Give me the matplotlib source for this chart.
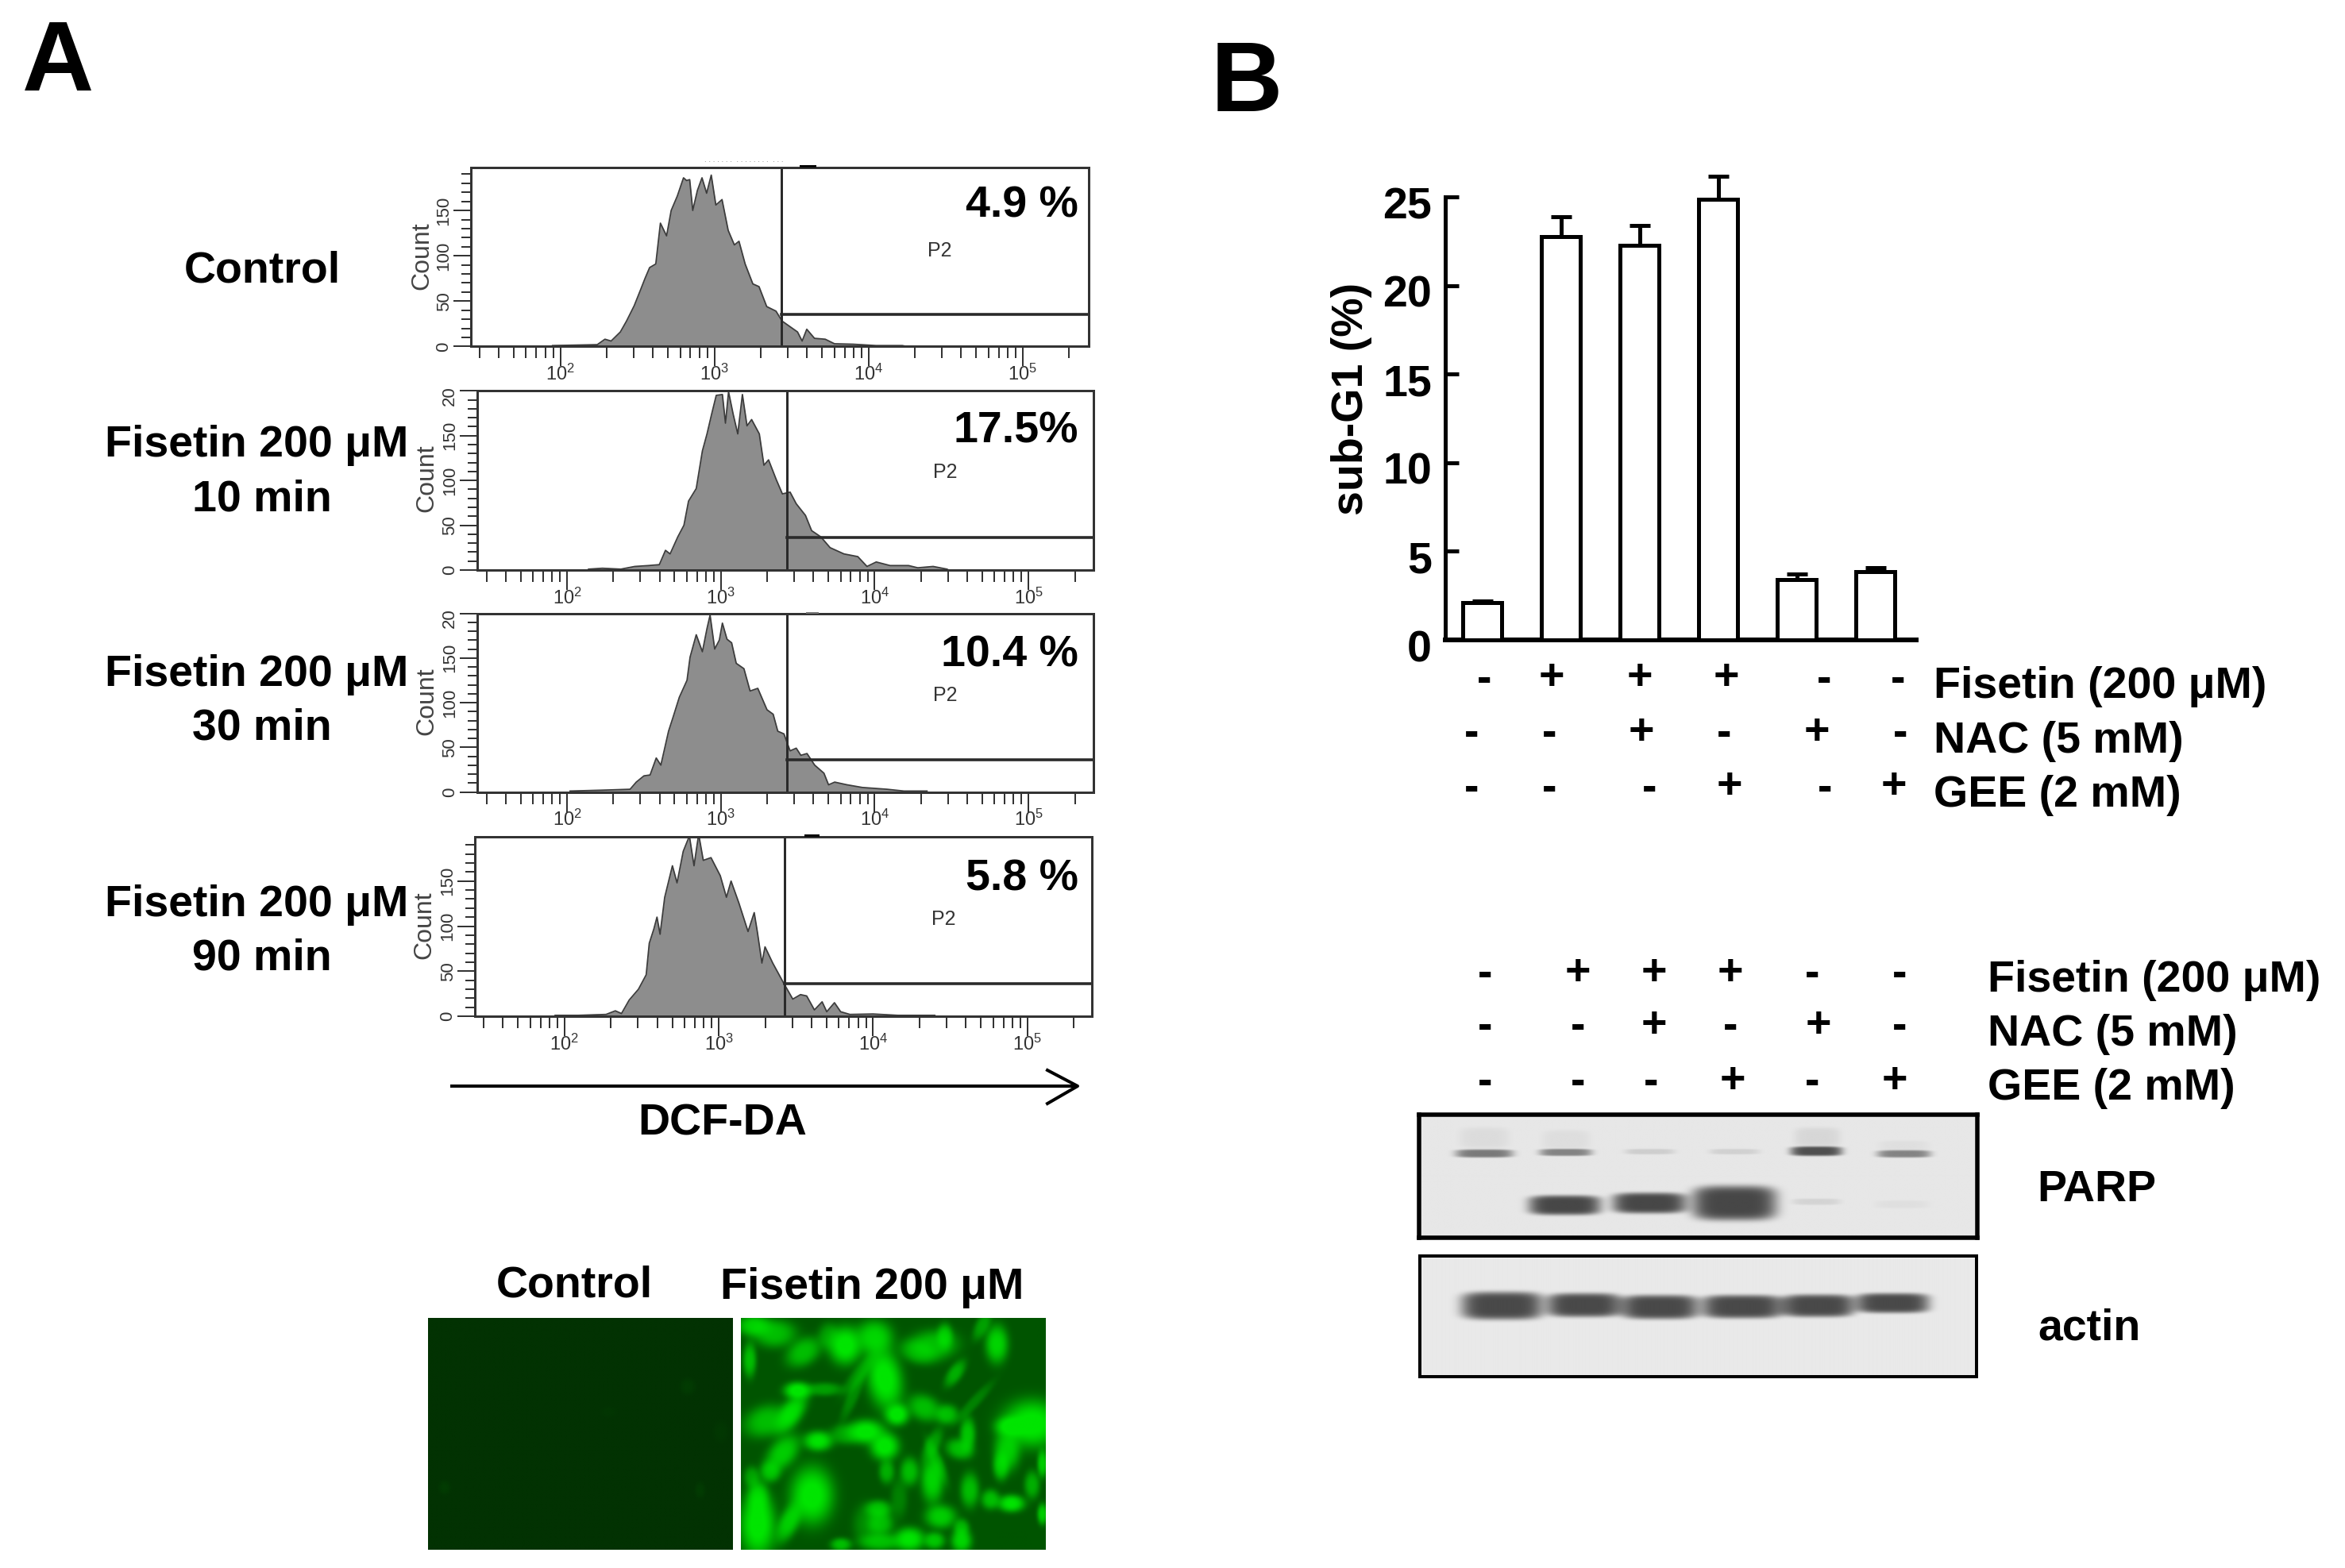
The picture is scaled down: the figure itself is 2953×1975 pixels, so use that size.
import numpy as np
import matplotlib
matplotlib.use("Agg")
import matplotlib.pyplot as plt
from matplotlib.ticker import FixedLocator, NullFormatter, LogFormatterSciNotation
from matplotlib.transforms import Bbox, TransformedBbox, ScaledTranslation

plt.rcParams['font.family'] = ['Liberation Sans', 'DejaVu Sans']
plt.rcParams['mathtext.default'] = 'regular'

W, H = 2953, 1975
PX = 0.72  # points per pixel at dpi 100

# ---------- data ----------
p1_log = [1.95,2.24,2.29,2.33,2.39,2.43,2.48,2.52,2.55,2.58,2.62,2.65,2.69,2.72,2.76,2.80,2.82,2.84,2.86,2.89,2.92,2.95,2.98,3.01,3.05,3.09,3.13,3.16,3.20,3.25,3.29,3.34,3.40,3.44,3.49,3.54,3.57,3.60,3.65,3.72,3.78,3.90,4.05,4.22,4.25]
p1_cnt = [1,2,8,6,16,28,45,62,75,87,91,136,122,150,166,186,183,184,150,172,186,169,189,156,162,128,112,116,91,69,66,44,39,28,22,16,6,19,9,8,3,2.5,1,1,0]
p2_log = [2.14,2.23,2.35,2.44,2.53,2.60,2.64,2.67,2.72,2.76,2.79,2.84,2.88,2.91,2.94,2.97,3.01,3.03,3.05,3.08,3.11,3.14,3.17,3.20,3.25,3.28,3.31,3.36,3.40,3.45,3.49,3.55,3.59,3.65,3.71,3.80,3.89,3.95,4.01,4.10,4.22,4.28,4.38,4.47,4.48]
p2_cnt = [1,2,1,4,5,6,22,18,37,50,77,91,133,152,174,195,196,164,199,174,152,196,161,168,152,117,123,101,85,87,74,61,44,37,25,18,15,4,9,5,5,2.5,4,1,0]
p3_log = [2.02,2.23,2.41,2.45,2.50,2.54,2.58,2.61,2.66,2.69,2.73,2.78,2.80,2.84,2.88,2.91,2.93,2.96,2.99,3.01,3.04,3.07,3.10,3.15,3.19,3.24,3.30,3.34,3.37,3.41,3.45,3.49,3.52,3.56,3.61,3.67,3.70,3.74,3.82,3.92,4.08,4.19,4.34]
p3_cnt = [1,2,3,11,18,19,38,30,68,84,106,125,151,176,157,183,198,160,170,189,171,167,144,138,113,116,92,87,68,65,46,49,41,43,30,21,8,11,8,5,3,1,1]
p4_log = [1.94,2.09,2.27,2.33,2.37,2.42,2.48,2.53,2.55,2.58,2.60,2.62,2.65,2.70,2.73,2.77,2.81,2.84,2.87,2.90,2.95,3.01,3.05,3.08,3.13,3.19,3.23,3.25,3.28,3.30,3.35,3.42,3.48,3.53,3.57,3.62,3.67,3.70,3.75,3.79,3.85,4.00,4.16,4.40]
p4_cnt = [1,1,2,6,3,18,30,46,81,97,110,91,132,167,148,183,200,167,202,173,176,156,132,150,126,94,115,94,59,77,59,37,19,24,22.5,7,16,5,15,5,2,2.5,1,1]
gate_log = [3.435, 3.43, 3.43, 3.426]
gate_cnt = [35, 36, 36, 36]
percent_labels = ['4.9 %', '17.5%', '10.4 %', '5.8 %']
treatment_lines = [('Fisetin 200 \u03bcM', '10 min'), ('Fisetin 200 \u03bcM', '30 min'), ('Fisetin 200 \u03bcM', '90 min')]

subg1_vals = [2.1, 22.8, 22.3, 24.9, 3.4, 3.85]
subg1_errs = [0.1, 1.1, 1.1, 1.3, 0.3, 0.25]
bar_ticks = [0, 5, 10, 15, 20, 25]
fisetin = ['-', '+', '+', '+', '-', '-']
nac = ['-', '-', '+', '-', '+', '-']
gee = ['-', '-', '-', '+', '-', '+']
row_names = ['Fisetin (200 \u03bcM)', 'NAC (5 mM)', 'GEE (2 mM)']

# blot bands: x1, x2, y1, y2, strength (coordinates of the blot picture)
parp_bands = [
    (150,300,203,234,.68),(368,505,201,228,.62),(590,720,201,222,.16),(810,940,201,222,.14),
    (1020,1155,192,228,.95),(1245,1385,206,234,.62),
    (340,528,376,450,1.0),(558,750,366,444,1.0),(765,985,340,470,1.0),
    (1025,1150,388,412,.12),(1240,1380,395,425,.05),
    (160,290,120,200,.07),(375,500,130,205,.06),(1030,1150,120,195,.1),(1250,1380,170,210,.05)]
actin_bands = [
    (165,377,740,845,1.0),(388,580,745,835,1.0),(580,780,752,843,1.0),
    (790,1000,752,840,1.0),(998,1185,750,835,1.0),(1190,1380,745,820,1.0)]
# fluorescent cells: cx, cy, rx, ry, angle, brightness
cells = [
 (1040,165,32,58,0,1),(1110,135,36,52,0,.85),(1405,160,22,58,0,.85),(870,120,42,42,0,.7),(820,90,32,32,0,.8),
 (940,190,30,48,-25,.7),(1000,130,20,40,0,.45),(810,220,13,52,0,.7),(1135,290,34,95,5,1),(1250,165,50,45,30,.7),
 (1280,130,15,38,0,.7),(1305,270,15,42,-20,.6),(925,335,26,26,0,1),(910,420,23,62,-20,.9),(850,450,40,52,-30,.7),
 (990,330,36,20,0,.5),(1165,425,23,33,0,1),(1230,400,30,42,20,.7),(1285,425,22,30,0,.7),(1490,460,58,72,0,1),
 (1440,470,30,30,0,1),(1335,500,15,52,0,.75),(1090,490,36,36,0,1),(1135,545,28,42,0,1),(975,525,28,30,0,.95),
 (1040,500,30,30,0,.5),(890,570,28,58,-20,.8),(860,640,20,32,0,.7),(1315,555,25,32,20,.7),(1250,540,15,52,-15,.5),
 (1430,560,25,62,0,.8),(1415,620,15,42,0,.75),(1140,640,15,36,0,.6),(1195,640,18,42,0,.7),(1250,670,22,72,0,.85),
 (1340,710,18,52,0,.7),(1390,745,18,30,0,.7),(1440,760,26,26,0,.95),(1490,690,15,42,0,.6),(1515,610,10,42,0,.8),
 (960,730,42,88,0,1),(905,830,20,62,-15,.8),(830,840,35,98,0,1),(830,740,20,52,0,.8),(815,660,15,32,0,.5),
 (1120,780,25,26,0,.7),(1125,835,25,40,0,.7),(1270,810,30,36,0,.8),(1195,895,30,36,0,.95),(1255,900,20,26,0,.75),
 (1320,900,20,36,0,.85),(1320,850,15,26,0,.6),(1125,905,40,26,0,.7),(1030,915,20,20,0,.7),(1515,800,10,32,0,.8),
 (1075,270,15,70,-25,.4),(1060,350,12,80,-15,.35),(1370,90,14,45,-15,.5),(1215,190,30,40,40,.5),(1350,380,12,70,-30,.3),
 (1260,600,12,70,15,.4),(1170,740,16,60,0,.3),(1090,840,25,60,0,.35)]
dim_cells = [(660,320,18,30,0,.05),(75,700,14,25,0,.05),(690,710,12,30,0,.05),(470,415,20,20,0,.02),(740,490,18,40,0,.03)]

# ---------- helpers ----------
fig = plt.figure(figsize=(W / 100, H / 100), dpi=100, facecolor='white')

def ax_px(l, t, r, b, **kw):
    return fig.add_axes([l / W, 1 - b / H, (r - l) / W, (b - t) / H], **kw)

ov = ax_px(0, 0, W, H, zorder=10)
ov.set_xlim(0, W); ov.set_ylim(H, 0); ov.axis('off'); ov.patch.set_alpha(0)

def T(x, y, s, size=40, ha='left', weight='bold', color='black', rotation=0):
    dy = 4 if rotation == 0 and weight == 'bold' else 0
    ov.text(x, y + dy, s, fontsize=size, ha=ha, va='center', fontweight=weight, color=color, rotation=rotation)

# ---------- panel letters ----------
T(28, 78, 'A', size=90)
T(1525, 104, 'B', size=90)

# ---------- flow histograms ----------
frames = [(593, 211.4, 1371, 436.4), (600.5, 491.8, 1376.6, 718), (600.5, 772.5, 1376.6, 997.5), (598, 1053.6, 1375.4, 1280)]
ytops = [197, 200.5, 200, 199.5]
xlims = [(1.42, 5.43), (1.414, 5.42), (1.414, 5.42), (1.42, 5.42)]
hist_log = [p1_log, p2_log, p3_log, p4_log]
hist_cnt = [p1_cnt, p2_cnt, p3_cnt, p4_cnt]
count_pos = [(531, 322), (537, 602), (537, 883), (534, 1165)]
p2_pos = [(1183, 316), (1190, 595), (1190, 876), (1188, 1158)]
pct_y = [256, 540, 821, 1103]
INK = '#333333'
for i in range(4):
    l, t, r, b = frames[i]
    ax = ax_px(l, t, r, b)
    ax.set_xscale('log')
    x = 10.0 ** np.array(hist_log[i])
    y = np.array(hist_cnt[i])
    ax.fill_between(x, y, 0, color='#8d8d8d', lw=0)
    ax.plot(x, y, color='#3c3c3c', lw=1.8 * PX)
    ax.set_xlim(10 ** xlims[i][0], 10 ** xlims[i][1])
    ax.set_ylim(0, ytops[i])
    gx = 10 ** gate_log[i]
    ax.plot([gx, gx], [0, ytops[i]], color='#2a2a2a', lw=3 * PX)
    ax.plot([gx, 10 ** xlims[i][1]], [gate_cnt[i]] * 2, color='#2a2a2a', lw=3.6 * PX)
    for s in ax.spines.values():
        s.set_color(INK); s.set_linewidth(3 * PX)
    ax.xaxis.set_major_locator(FixedLocator([1e2, 1e3, 1e4, 1e5]))
    ax.xaxis.set_major_formatter(LogFormatterSciNotation())
    ax.xaxis.set_minor_locator(FixedLocator([m * 10 ** e for e in (1, 2, 3, 4, 5) for m in range(2, 10)]))
    ax.xaxis.set_minor_formatter(NullFormatter())
    ax.tick_params(axis='x', which='major', length=25 * PX, width=2 * PX, color=INK, labelsize=17, labelcolor=INK, pad=-2)
    ax.tick_params(axis='x', which='minor', length=15 * PX, width=2 * PX, color=INK)
    ax.yaxis.set_major_locator(FixedLocator([0, 50, 100, 150, 200]))
    ax.yaxis.set_minor_locator(FixedLocator(list(range(0, 210, 10))))
    ax.tick_params(axis='y', which='major', length=22 * PX, width=2 * PX, color=INK, labelsize=16, labelcolor=INK, pad=1)
    ax.tick_params(axis='y', which='minor', length=12 * PX, width=2 * PX, color=INK)
    box = TransformedBbox(Bbox([[0, 0], [1, 1 - (t - 3) / H]]), fig.transFigure)
    for lab in ax.get_yticklabels():
        lab.set_rotation(90); lab.set_va('center')
        lab.set_clip_box(box); lab.set_clip_on(True)
    T(count_pos[i][0], count_pos[i][1], 'Count', size=23, ha='center', weight='normal', color='#444444', rotation=90)
    T(p2_pos[i][0], p2_pos[i][1], 'P2', size=18, ha='center', weight='normal', color=INK)
    T(1358, pct_y[i], percent_labels[i], ha='right')

# small header marks above the histograms
T(937, 201, '. . . . . . .  . . . . . . . .  . . .', size=7, ha='center', weight='normal', color='#777777')
ov.plot([1008, 1026], [209, 209], color='black', lw=3 * PX)
ov.plot([1016, 1030], [772, 772], color='#777777', lw=2 * PX)
ov.plot([1014, 1030], [1052, 1052], color='black', lw=3 * PX)

# ---------- left labels ----------
T(330, 337, 'Control', ha='center')
for (l1, l2), y1, y2 in zip(treatment_lines, [557, 846, 1136], [625, 913, 1203]):
    T(323, y1, l1, ha='center')
    T(330, y2, l2, ha='center')

# arrow and DCF-DA
ov.plot([567, 1355], [1368, 1368], color='black', lw=4 * PX, solid_capstyle='butt')
ov.plot([1319, 1357, 1319], [1348, 1368, 1390], color='black', lw=4 * PX)
T(910, 1412, 'DCF-DA', ha='center')

# ---------- fluorescence images ----------
T(723, 1616, 'Control', ha='center')
T(1098, 1618, 'Fisetin 200 \u03bcM', ha='center')

def cell_field(cx0, cy0, w, h, spec, grow=1.0):
    yy, xx = np.mgrid[0:h:3, 0:w:2]
    xx = xx + cx0; yy = yy + cy0
    keep = np.ones(xx.shape)
    for cx, cy, rx, ry, ang, amp in spec:
        a = np.deg2rad(ang)
        dx = xx - cx; dy = yy - cy
        u = dx * np.cos(a) - dy * np.sin(a)
        w2 = dx * np.sin(a) + dy * np.cos(a)
        d = (u / (rx * grow)) ** 2 + (w2 / (ry * grow)) ** 2
        keep *= 1 - amp * 0.95 * np.exp(-d ** 1.5)
    return 1 - keep

v = cell_field(36, 60, 733, 875, dim_cells)
img = np.zeros(v.shape + (3,))
img[..., 0] = 2 / 255; img[..., 1] = (50 + 200 * v) / 255; img[..., 2] = 2 / 255
a1 = ax_px(539, 1660, 922, 1952); a1.imshow(np.clip(img, 0, 1), aspect='auto', interpolation='bilinear'); a1.axis('off')

v = cell_field(790, 60, 733, 875, cells, grow=1.25)
img = np.zeros(v.shape + (3,))
img[..., 1] = (84 + 145 * np.clip(v * 1.1, 0, 1)) / 255
a2 = ax_px(933, 1660, 1316.6, 1952); a2.imshow(np.clip(img, 0, 1), aspect='auto', interpolation='bilinear'); a2.axis('off')

# ---------- sub-G1 bars ----------
bx = ax_px(1820, 203, 2413, 806)
bx.patch.set_alpha(0)
pos = np.arange(len(subg1_vals))
bx.bar(pos, subg1_vals, width=0.5, facecolor='white', edgecolor='black', linewidth=5 * PX, zorder=3)
bx.errorbar(pos, subg1_vals, yerr=[np.zeros(6), subg1_errs], fmt='none', ecolor='black',
            elinewidth=5 * PX, capsize=13 * PX, capthick=5 * PX, zorder=2)
bx.set_xlim(-0.47, 5.52); bx.set_ylim(0, 27.04)
for s in ('top', 'right'):
    bx.spines[s].set_visible(False)
bx.spines['left'].set_bounds(0, 25)
bx.spines['left'].set_linewidth(5 * PX)
bx.spines['bottom'].set_linewidth(6 * PX)
bx.set_xticks([])
bx.set_yticks(bar_ticks)
bx.tick_params(axis='y', direction='in', length=17 * PX, width=5 * PX, labelsize=40, pad=17 * PX)
off = ScaledTranslation(0, -7 / 100, fig.dpi_scale_trans)
for lab in bx.get_yticklabels():
    lab.set_fontweight('bold')
    lab.set_transform(lab.get_transform() + off)
T(1702, 502, 'sub-G1 (%)', ha='center', rotation=90)

def signs(rows, xs, ys_minus, ys_plus):
    for sg, xr, ym, yp in zip(rows, xs, ys_minus, ys_plus):
        for s, x in zip(sg, xr):
            T(x, yp if s == '+' else ym, s, ha='center')

signs([fisetin, nac, gee],
      [[1869, 1954, 2065, 2174, 2297, 2390], [1853, 1951, 2067, 2171, 2288, 2393], [1853, 1951, 2077, 2178, 2298, 2385]],
      [853, 921, 990], [850, 919, 987])
for name, y in zip(row_names, [861, 930, 998]):
    T(2435, y, name)

signs([fisetin, nac, gee],
      [[1870, 1987, 2083, 2179, 2282, 2392], [1870, 1987, 2083, 2179, 2290, 2392], [1870, 1987, 2079, 2182, 2282, 2386]],
      [1224, 1290, 1360], [1222, 1288, 1358])
for name, y in zip(row_names, [1231, 1299, 1367]):
    T(2503, y, name)

# ---------- western blots ----------
def blot(l, t, r, b, z_l, z_t, z_r, z_b, bands, bg, lw):
    yy, xx = np.mgrid[z_t:z_b:1.0, z_l:z_r:1.0]
    im = np.full(xx.shape, float(bg))
    for x1, x2, y1, y2, amp in bands:
        cx, cy = (x1 + x2) / 2, (y1 + y2) / 2
        rx, ry = (x2 - x1) / 2, (y2 - y1) / 2
        d = (np.abs(xx - cx) / rx) ** 4 + (np.abs(yy - cy) / ry) ** 4
        im -= amp * 160 * np.exp(-d ** 1.5)
    ax = ax_px(l, t, r, b)
    ax.imshow(np.clip(im, 0, 255), cmap='gray', vmin=0, vmax=255, aspect='auto', interpolation='bilinear')
    ax.set_xticks([]); ax.set_yticks([])
    for s in ax.spines.values():
        s.set_linewidth(lw * PX); s.set_color('black')

blot(1787, 1404, 2490, 1559, 56, 73, 1506, 536, parp_bands, 231, 5.5)
blot(1788, 1582, 2489.5, 1734, 58, 605, 1505, 1061, actin_bands, 233, 4)
T(2565, 1495, 'PARP')
T(2566, 1670, 'actin')

fig.savefig('out.png', dpi=100, facecolor='white')
